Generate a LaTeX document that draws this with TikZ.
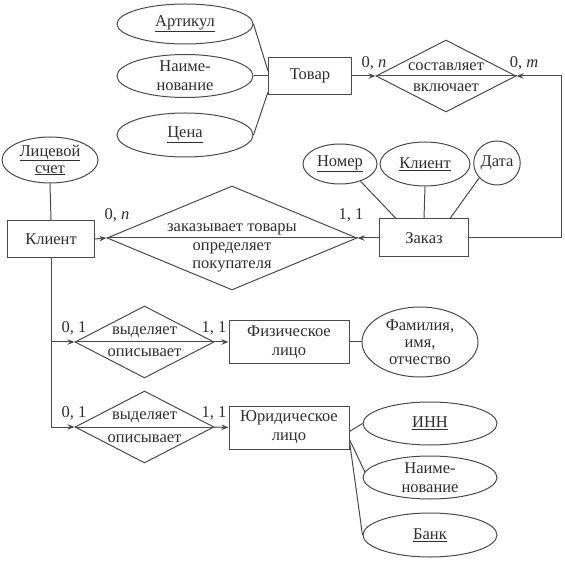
\documentclass[tikz,border=0pt]{standalone}
\usepackage{fontspec}
\setmainfont{Liberation Serif}
\usetikzlibrary{shapes.geometric,arrows.meta}
\definecolor{ink}{HTML}{2E2E2E}
\definecolor{lnc}{HTML}{4A4A4A}
\begin{document}
\begin{tikzpicture}[x=1pt,y=-1pt,
  every node/.style={font=\fontsize{16.5}{19}\selectfont, text=ink},
  ent/.style={draw=lnc, line width=1pt, rectangle, inner sep=0pt, align=center},
  attr/.style={draw=lnc, line width=1pt, ellipse, inner sep=0pt, align=center},
  rel/.style={draw=lnc, line width=1pt, diamond, inner sep=0pt},
  txt/.style={inner sep=0pt, align=center},
  card/.style={inner sep=0pt},
  ln/.style={draw=lnc, line width=1pt},
  arr/.style={ln, -{Stealth[length=7pt,width=5.5pt]}}
]
\useasboundingbox (0,0) rectangle (565,561);

% Top group
\node[attr, minimum width=136pt, minimum height=40pt] (art) at (185,24) {\underline{Артикул}};
\node[attr, minimum width=136pt, minimum height=43pt] (naim1) at (185,76) {Наиме-\\нование};
\node[attr, minimum width=136pt, minimum height=44pt] (cena) at (185,135) {\underline{Цена}};
\node[ent, minimum width=83pt, minimum height=37pt] (tovar) at (310,76) {Товар};
\node[rel, minimum width=140pt, minimum height=72pt] (sost) at (446,76) {};
\node[txt] (sost1) at (446,67) {составляет};
\node[txt] (sost2) at (446,88) {включает};
\node[card] (c0n1) at (374,63) {0, \textit{n}};
\node[card] (c0m) at (524,63) {0, \textit{m}};

\draw[ln] (art.east) -- ([yshift=-14pt]tovar.north west);
\draw[ln] (naim1.east) -- (tovar.west);
\draw[ln] (cena.east) -- ([yshift=3pt]tovar.south west);
\draw[arr] (tovar.east) -- (sost.west);
\draw[ln] (sost.west) -- (sost.east);

% Order group
\node[attr, minimum width=74pt, minimum height=40pt] (nomer) at (340,164) {\underline{Номер}};
\node[attr, minimum width=90pt, minimum height=44pt] (klattr) at (425,164) {\underline{Клиент}};
\node[attr, minimum width=46pt, minimum height=44pt] (data) at (497,163) {Дата};
\node[ent, minimum width=89pt, minimum height=38pt] (zakaz) at (424,238) {Заказ};
\draw[ln] (nomer.-40) -- ([xshift=17pt]zakaz.north west);
\draw[ln] (klattr.south) -- (zakaz.north);
\draw[ln] (data.-140) -- ([xshift=-19pt]zakaz.north east);
\coordinate (rc) at (561,238);
\draw[arr] (zakaz.east) -- (rc) |- (sost.east);

% Client group
\node[attr, minimum width=96pt, minimum height=46pt] (lic) at (50,160) {\underline{Лицевой}\\[-2pt]\underline{счет}};
\node[ent, minimum width=87pt, minimum height=37pt] (klient) at (51,239) {Клиент};
\draw[ln] (lic.south) -- (klient.north);
\node[rel, minimum width=250pt, minimum height=104pt] (zak) at (232,238) {};
\node[txt] (zak1) at (232,229) {заказывает товары};
\node[txt] (zak2) at (232,248) {определяет};
\node[txt] (zak3) at (232,266) {покупателя};
\node[card] (c0n2) at (117,215) {0, \textit{n}};
\node[card] (c11a) at (351,215) {1, 1};
\draw[arr] (klient.east) -- (zak.west);
\draw[ln] (zak.west) -- (zak.east);
\draw[arr] (zakaz.west) -- (zak.east);

% Subtypes
\coordinate (b1) at (51,342);
\coordinate (b2) at (51,427);
\draw[ln] (klient.south) -- (b2);

\node[rel, minimum width=139pt, minimum height=72pt] (vyd1) at (144.5,342) {};
\node[txt] (vyd1a) at (144.5,332) {выделяет};
\node[txt] (vyd1b) at (144.5,353) {описывает};
\node[ent, minimum width=120pt, minimum height=43pt] (fiz) at (289,342) {Физическое\\лицо};
\node[card] (c01a) at (74,328) {0, 1};
\node[card] (c11b) at (214,328) {1, 1};
\draw[arr] (b1) -- (vyd1.west);
\draw[ln] (vyd1.west) -- (vyd1.east);
\draw[arr] (vyd1.east) -- (fiz.west);
\node[attr, minimum width=116pt, minimum height=70pt] (fio) at (420,342) {Фамилия,\\[-2pt]имя,\\[-2pt]отчество};
\draw[ln] (fiz.east) -- (fio.west);

\node[rel, minimum width=139pt, minimum height=72pt] (vyd2) at (144.5,427) {};
\node[txt] (vyd2a) at (144.5,417) {выделяет};
\node[txt] (vyd2b) at (144.5,439) {описывает};
\node[ent, minimum width=120pt, minimum height=43pt] (jur) at (289,427.5) {Юридическое\\лицо};
\node[card] (c01b) at (74,413) {0, 1};
\node[card] (c11c) at (214,413) {1, 1};
\draw[arr] (b2) -- (vyd2.west);
\draw[ln] (vyd2.west) -- (vyd2.east);
\draw[arr] (vyd2.east) -- (jur.west);

\node[attr, minimum width=134pt, minimum height=43pt] (inn) at (430,423.5) {\underline{ИНН}};
\node[attr, minimum width=134pt, minimum height=43pt] (naim2) at (430,477.5) {Наиме-\\нование};
\node[attr, minimum width=134pt, minimum height=44pt] (bank) at (430,535) {\underline{Банк}};
\draw[ln] ([yshift=-4pt]jur.east) -- (inn.west);
\draw[ln] ([yshift=-12pt]jur.east) -- (naim2.175);
\draw[ln] ([yshift=-14pt]jur.east) -- (bank.west);
\end{tikzpicture}
\end{document}
